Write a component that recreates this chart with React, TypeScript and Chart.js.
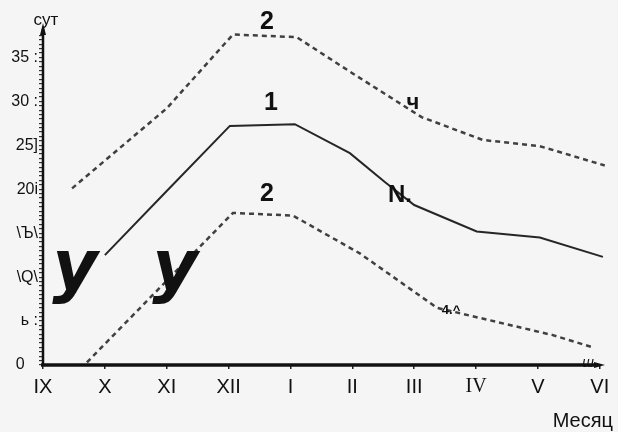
import React, { useEffect, useRef } from "react";
import { Chart, registerables } from "chart.js";

Chart.register(...registerables);

// Month categories (x axis, roman numerals)
const months = ["IX", "X", "XI", "XII", "I", "II", "III", "IV", "V", "VI"];

// Y tick labels as printed in the scan
const yTickValues = [0, 5, 10, 15, 20, 25, 30, 35];
const yTickText = ["0   ", "ь :", "\\Q\\", "\\Ъ\\", "20i", "25]", "30 :", "35 :"];

// Curve 2 (upper dashed) — x in month units from IX
const upperX = [0.47, 2, 3.07, 4.1, 5, 5.56, 6.12, 7.11, 8.03, 9.08];
const upperY = [20.1, 29.2, 37.6, 37.3, 33.2, 30.7, 28.2, 25.6, 24.9, 22.7];

// Curve 1 (solid)
const midX = [1, 2, 3.02, 4.07, 4.96, 5.53, 6, 7.01, 8.03, 9.05];
const midY = [12.5, 19.8, 27.2, 27.4, 24.1, 20.8, 18.2, 15.2, 14.5, 12.3];

// Curve 2 (lower dashed)
const lowX = [0.71, 3.07, 4.04, 5.12, 6.37, 8.24, 8.89];
const lowY = [0.3, 17.3, 17.0, 12.7, 6.5, 3.4, 2.0];

const SANS = "'Liberation Sans', Arial, sans-serif";
const SERIF = "'Liberation Serif', 'Times New Roman', serif";

const toPoints = (xs: number[], ys: number[]) => xs.map((x, i) => ({ x, y: ys[i] }));

const overlay = {
  id: "overlay",
  beforeDraw(chart: any) {
    const { ctx, width, height } = chart;
    ctx.save();
    ctx.fillStyle = "#f5f5f5";
    ctx.fillRect(0, 0, width, height);
    ctx.restore();
  },
  afterDraw(chart: any) {
    const { ctx, chartArea } = chart;
    const { left, bottom, top } = chartArea;
    ctx.save();
    ctx.strokeStyle = "#111";
    ctx.fillStyle = "#111";
    // y axis with arrow
    ctx.lineWidth = 2.5;
    ctx.beginPath();
    ctx.moveTo(left, bottom);
    ctx.lineTo(left, top - 2);
    ctx.stroke();
    ctx.beginPath();
    ctx.moveTo(left, top - 8);
    ctx.lineTo(left - 3, top + 4);
    ctx.lineTo(left + 3, top + 4);
    ctx.closePath();
    ctx.fill();
    // x axis with arrow
    ctx.lineWidth = 3.5;
    ctx.beginPath();
    ctx.moveTo(left - 2, bottom);
    ctx.lineTo(598, bottom);
    ctx.stroke();
    ctx.beginPath();
    ctx.moveTo(605, bottom);
    ctx.lineTo(594, bottom - 3);
    ctx.lineTo(594, bottom + 3);
    ctx.closePath();
    ctx.fill();

    ctx.textAlign = "center";
    ctx.textBaseline = "middle";
    // axis titles
    ctx.font = `17px ${SANS}`;
    ctx.fillText("сут", 46, 20);
    ctx.font = `20px ${SANS}`;
    ctx.textAlign = "right";
    ctx.fillText("Месяц", 613, 421);
    ctx.textAlign = "center";
    // curve labels
    ctx.font = `bold 25px ${SANS}`;
    ctx.fillText("2", 267, 22);
    ctx.fillText("1", 271, 103);
    ctx.fillText("2", 267, 194);
    ctx.font = `bold 22px ${SANS}`;
    ctx.fillText("ч", 413, 103);
    ctx.font = `bold 24px ${SANS}`;
    ctx.fillText("N.", 400, 195);
    ctx.font = `bold 13px ${SANS}`;
    ctx.fillText("4.^", 451, 310);
    ctx.font = `italic 14px ${SANS}`;
    ctx.fillText("ш", 588, 363);
    // big stray glyphs from the scan
    ctx.font = `italic bold 70px 'DejaVu Sans', sans-serif`;
    ctx.textBaseline = "alphabetic";
    ctx.fillText("у", 75, 289);
    ctx.fillText("у", 175, 289);
    ctx.restore();
  },
};

export default function App() {
  const ref = useRef<HTMLCanvasElement | null>(null);
  useEffect(() => {
    if (!ref.current) return;
    const chart = new Chart(ref.current, {
      type: "line",
      data: {
        datasets: [
          {
            label: "2 upper",
            data: toPoints(upperX, upperY),
            borderColor: "#404040",
            borderWidth: 2.5,
            borderDash: [5, 4],
            pointRadius: 0,
            tension: 0,
          },
          {
            label: "1",
            data: toPoints(midX, midY),
            borderColor: "#262626",
            borderWidth: 2,
            pointRadius: 0,
            tension: 0,
          },
          {
            label: "2 lower",
            data: toPoints(lowX, lowY),
            borderColor: "#404040",
            borderWidth: 2.5,
            borderDash: [5, 4],
            pointRadius: 0,
            tension: 0,
          },
        ],
      },
      options: {
        responsive: false,
        animation: false,
        layout: { padding: { top: 31, right: 12, left: 0, bottom: 0 } },
        plugins: { legend: { display: false }, tooltip: { enabled: false } },
        scales: {
          x: {
            type: "linear",
            min: 0,
            max: 9.1,
            afterBuildTicks: (s: any) => {
              s.ticks = months.map((_, i) => ({ value: i }));
            },
            afterFit: (s: any) => {
              s.height = 67;
            },
            ticks: {
              autoSkip: false,
              maxRotation: 0,
              padding: 6,
              color: "#111",
              callback: (v: any) => months[Math.round(Number(v))] ?? "",
              font: (c: any) => ({
                family: months[c.index] === "IV" ? SERIF : SANS,
                size: 20,
              }),
            },
            grid: { drawOnChartArea: false, drawTicks: true, tickLength: 4, color: "#222", lineWidth: 1.5 },
            border: { display: false },
          },
          y: {
            type: "linear",
            min: 0,
            max: 38,
            afterBuildTicks: (s: any) => {
              const t: any[] = [];
              for (let k = 0; k <= 75; k++) t.push({ value: k / 2 });
              s.ticks = t;
            },
            afterFit: (s: any) => {
              s.width = 43;
            },
            ticks: {
              autoSkip: false,
              padding: 1,
              color: "#111",
              font: { family: SANS, size: 16 },
              callback: (v: any) => {
                const i = yTickValues.indexOf(Number(v));
                return i >= 0 ? yTickText[i] : "";
              },
            },
            grid: { drawOnChartArea: false, drawTicks: true, tickLength: 4, color: "#333", lineWidth: 1.2 },
            border: { display: false },
          },
        },
      },
      plugins: [overlay],
    });
    return () => chart.destroy();
  }, []);
  return (
    <div style={{ position: "absolute", left: 0, top: 0, width: 618, height: 432 }}>
      <canvas ref={ref} width={618} height={432} style={{ display: "block" }} />
    </div>
  );
}
